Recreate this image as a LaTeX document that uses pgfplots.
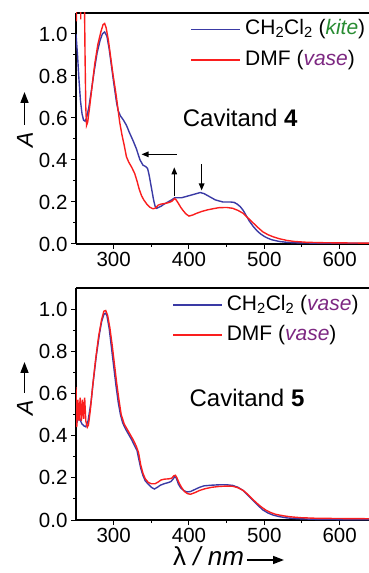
\documentclass[border=0pt]{standalone}
\usepackage{fontspec}
\setmainfont{Liberation Sans}
\usepackage{pgfplots}
\pgfplotsset{compat=1.18}
\usetikzlibrary{arrows.meta}
\definecolor{cblue}{RGB}{58,58,165}
\definecolor{cred}{RGB}{250,30,30}
\definecolor{kitegreen}{RGB}{40,140,50}
\definecolor{vasepurple}{RGB}{125,40,130}
\tikzset{ann/.style={line width=1.2pt,-{Triangle[length=7pt,width=5.5pt]}},
  labarrow/.style={line width=1.6pt,-{Triangle[length=11pt,width=8pt]}},
  legtext/.style={anchor=west, inner sep=0pt, font=\fontsize{21}{25}\selectfont}}

\pgfplotstableread{
x y
250 1.00
252 0.90
254 0.78
256 0.68
258 0.62
260 0.59
262 0.585
264 0.60
267 0.65
270 0.72
274 0.82
278 0.91
282 0.97
285 1.00
288 1.01
291 0.99
294 0.93
297 0.85
300 0.77
302 0.72
304 0.67
306 0.635
309 0.61
313 0.59
317 0.565
321 0.53
326 0.49
330 0.455
335 0.40
339 0.375
342 0.37
345 0.36
347 0.33
349 0.29
351 0.25
353 0.21
355 0.18
357 0.17
360 0.175
363 0.18
367 0.19
372 0.20
377 0.21
381 0.22
385 0.22
390 0.22
395 0.225
400 0.23
405 0.235
410 0.24
415 0.245
420 0.24
425 0.23
430 0.22
435 0.21
440 0.205
445 0.20
450 0.20
455 0.20
460 0.198
464 0.19
468 0.178
472 0.16
476 0.135
480 0.11
485 0.085
490 0.064
495 0.048
500 0.036
505 0.027
510 0.02
520 0.012
530 0.008
540 0.006
550 0.005
570 0.004
600 0.003
640 0.003
}\fourblue

\pgfplotstableread{
x y
250 1.35
250.6 1.06
251.2 1.35
253 1.5
255.5 1.4
256.3 1.07
257 1.4
259 1.5
260.8 1.3
262 0.90
263 0.65
264 0.565
265.5 0.58
268 0.65
271 0.74
275 0.86
279 0.95
283 1.01
286 1.045
288 1.05
290 1.03
293 0.97
296 0.89
299 0.81
302 0.74
304 0.69
306 0.635
308 0.58
311 0.52
314 0.47
317 0.415
320 0.39
324 0.365
328 0.335
331 0.30
334 0.26
337 0.23
340 0.21
344 0.19
348 0.175
352 0.168
355 0.17
359 0.185
363 0.19
368 0.193
373 0.197
377 0.203
381 0.216
383 0.21
386 0.193
389 0.175
392 0.16
396 0.143
400 0.133
405 0.138
410 0.146
417 0.155
424 0.162
432 0.168
440 0.173
450 0.174
458 0.17
465 0.16
472 0.146
478 0.125
485 0.101
492 0.077
498 0.058
505 0.044
512 0.034
520 0.025
530 0.017
540 0.012
557 0.008
580 0.006
610 0.005
640 0.004
}\fourred

\pgfplotstableread{
x y
250 0.50
252 0.47
254 0.49
256 0.47
258 0.455
261 0.445
263 0.442
266 0.47
270 0.56
273 0.66
277 0.78
281 0.88
284 0.94
287 0.975
289 0.98
291 0.97
294 0.91
297 0.82
300 0.73
303 0.64
306 0.56
309 0.50
312 0.46
316 0.43
320 0.405
324 0.38
328 0.35
331 0.33
333 0.295
336 0.245
339 0.21
342 0.185
346 0.17
350 0.155
354 0.147
358 0.155
362 0.165
367 0.172
372 0.177
376 0.182
379 0.195
381 0.205
383 0.20
386 0.17
389 0.152
393 0.14
397 0.133
402 0.135
408 0.145
414 0.155
420 0.162
430 0.165
440 0.167
450 0.167
458 0.164
465 0.155
472 0.14
478 0.118
485 0.093
492 0.068
498 0.048
505 0.033
512 0.023
520 0.016
530 0.01
545 0.006
570 0.003
600 0.002
640 0.002
}\fiveblue

\pgfplotstableread{
x y
250 0.63
251 0.44
252.5 0.57
254 0.47
255.5 0.58
257 0.47
258.5 0.57
260 0.48
261.5 0.58
263 0.47
265 0.44
266.5 0.45
269 0.52
272 0.63
276 0.76
280 0.87
284 0.95
287 0.99
289.5 0.993
292 0.97
295 0.91
298 0.83
301 0.74
304 0.65
307 0.57
310 0.50
314 0.455
318 0.43
322 0.405
326 0.38
330 0.35
333 0.32
336 0.26
339 0.22
342 0.195
346 0.178
350 0.172
355 0.172
359 0.18
363 0.19
368 0.194
373 0.195
377 0.198
380 0.21
382 0.212
384 0.20
387 0.175
390 0.155
394 0.135
398 0.125
402 0.122
408 0.13
414 0.14
421 0.148
430 0.155
440 0.159
450 0.161
458 0.16
465 0.153
472 0.14
478 0.122
484 0.10
490 0.08
496 0.062
502 0.047
508 0.036
515 0.027
525 0.02
535 0.015
548 0.011
570 0.008
600 0.007
640 0.006
}\fivered

\pgfplotsset{
  mystyle/.style={
    scale only axis, width=293pt,
    xmin=250, xmax=639, ymin=0, ymax=1.1,
    axis x line*=box, axis y line*=left,
    xtick pos=left,
    xtick={300,400,500,600}, minor xtick={350,450,550},
    ytick={0,0.2,0.4,0.6,0.8,1.0}, minor ytick={0.1,0.3,0.5,0.7,0.9},
    tick align=outside,
    major tick length=5pt, minor tick length=3pt,
    every tick/.style={black, line width=1pt},
    axis line style={line width=1.2pt, black},
    tick label style={font=\fontsize{20.5}{24}\selectfont},
    /pgf/number format/assume math mode=true,
    yticklabel style={/pgf/number format/fixed, /pgf/number format/fixed zerofill, /pgf/number format/precision=1},
    xticklabel style={/pgf/number format/set thousands separator={}},
    ylabel={\textit{A}},
    ylabel style={anchor=center, font=\fontsize{23}{27}\selectfont},
  }
}

\begin{document}
\begin{tikzpicture}
\useasboundingbox (0,0) rectangle (369pt,573pt);
% top panel: Cavitand 4
\begin{axis}[mystyle, at={(76pt,329pt)}, anchor=south west, height=231pt,
  ylabel style={at={(axis description cs:-0.174,0.45)}}]
\addplot[cblue, line width=1.4pt] table[x=x,y=y] {\fourblue};
\addplot[cred, line width=1.4pt] table[x=x,y=y] {\fourred};
% legend
\fill[cblue] ([yshift=-0.8pt]rel axis cs:0.3925,0.929) rectangle ([yshift=0.8pt]rel axis cs:0.5597,0.929);
\node[legtext] at (rel axis cs:0.5768,0.929) {CH\textsubscript{2}Cl\textsubscript{2} (\textcolor{kitegreen}{\textit{kite}})};
\fill[cred] ([yshift=-0.8pt]rel axis cs:0.3925,0.797) rectangle ([yshift=0.8pt]rel axis cs:0.5597,0.797);
\node[legtext] at (rel axis cs:0.5768,0.797) {DMF (\textcolor{vasepurple}{\textit{vase}})};
\node[font=\fontsize{24}{28}\selectfont] at (axis cs:468,0.60) {Cavitand \textbf{4}};
\draw[ann] (axis cs:384,0.427) -- (axis cs:337,0.427);
\draw[ann] (axis cs:380.5,0.23) -- (axis cs:380.5,0.365);
\draw[ann] (axis cs:416.8,0.38) -- (axis cs:416.8,0.255);
\end{axis}
% bottom panel: Cavitand 5
\begin{axis}[mystyle, at={(76pt,53pt)}, anchor=south west, height=232pt,
  ylabel style={at={(axis description cs:-0.174,0.483)}},
  xlabel={λ \textit{/ nm}},
  xlabel style={at={(axis description cs:0.331,-0.198)}, anchor=base west, inner sep=0pt, font=\fontsize{26}{30}\selectfont}]
\addplot[cblue, line width=1.4pt] table[x=x,y=y] {\fiveblue};
\addplot[cred, line width=1.4pt] table[x=x,y=y] {\fivered};
% legend
\fill[cblue] ([yshift=-0.8pt]rel axis cs:0.330,0.927) rectangle ([yshift=0.8pt]rel axis cs:0.497,0.927);
\node[legtext] at (rel axis cs:0.514,0.927) {CH\textsubscript{2}Cl\textsubscript{2} (\textcolor{vasepurple}{\textit{vase}})};
\fill[cred] ([yshift=-0.8pt]rel axis cs:0.330,0.797) rectangle ([yshift=0.8pt]rel axis cs:0.497,0.797);
\node[legtext] at (rel axis cs:0.514,0.797) {DMF (\textcolor{vasepurple}{\textit{vase}})};
\node[font=\fontsize{24}{28}\selectfont] at (axis cs:477,0.577) {Cavitand \textbf{5}};
\end{axis}
% label arrows
\draw[labarrow] (24.5pt,448pt) -- (24.5pt,481pt);
\draw[labarrow] (24.5pt,180pt) -- (24.5pt,211pt);
\draw[labarrow] (247pt,13pt) -- (284pt,13pt);
\end{tikzpicture}
\end{document}
